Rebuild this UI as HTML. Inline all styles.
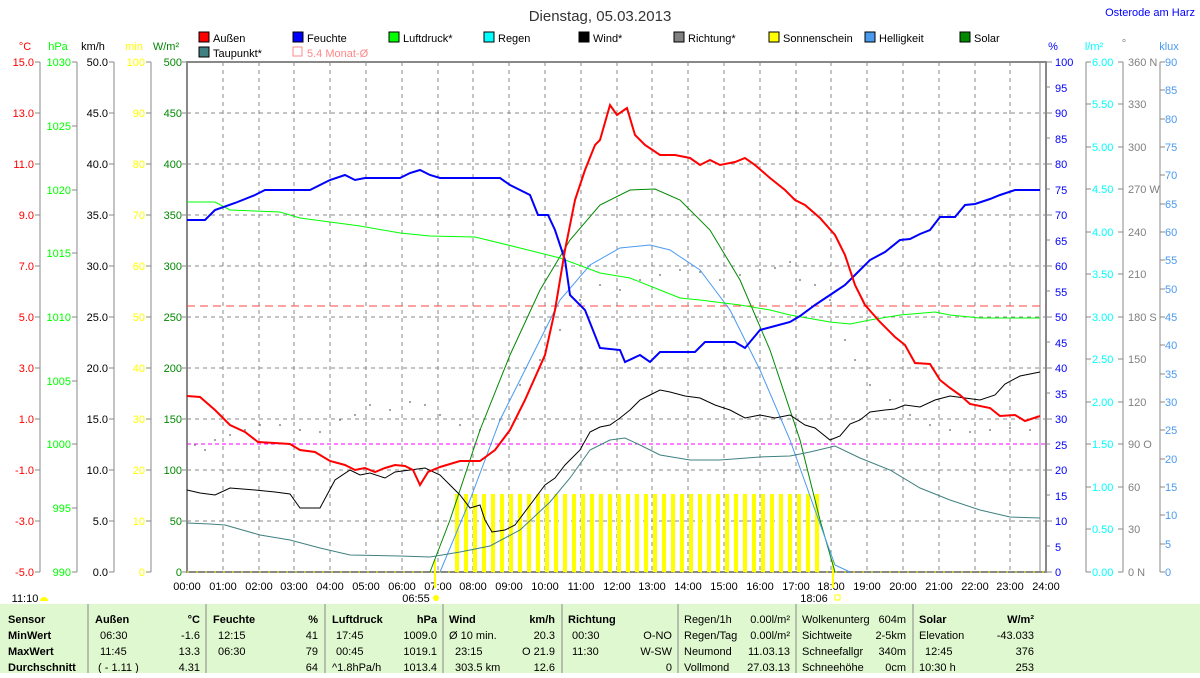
<!DOCTYPE html>
<html><head><meta charset="utf-8"><style>
body{margin:0;background:#fff;width:1200px;height:673px;overflow:hidden;font-family:"Liberation Sans",sans-serif}
svg text{font-family:"Liberation Sans",sans-serif;font-size:11px}
</style></head><body>
<svg width="1200" height="673" viewBox="0 0 1200 673" xmlns="http://www.w3.org/2000/svg">
<text x="600" y="21" text-anchor="middle" style="font-size:15px" fill="#333">Dienstag, 05.03.2013</text>
<text x="1195" y="16" text-anchor="end" style="font-size:11px" fill="#00f">Osterode am Harz</text>
<!-- legend -->
<g>
<rect x="199" y="32" width="10" height="10" fill="#f00" stroke="#000"/><text x="213" y="42">Außen</text>
<rect x="293" y="32" width="10" height="10" fill="#00f" stroke="#000"/><text x="307" y="42">Feuchte</text>
<rect x="389" y="32" width="10" height="10" fill="#0f0" stroke="#000"/><text x="403" y="42">Luftdruck*</text>
<rect x="484" y="32" width="10" height="10" fill="#0ff" stroke="#000"/><text x="498" y="42">Regen</text>
<rect x="579" y="32" width="10" height="10" fill="#000" stroke="#000"/><text x="593" y="42">Wind*</text>
<rect x="674" y="32" width="10" height="10" fill="#808080" stroke="#000"/><text x="688" y="42">Richtung*</text>
<rect x="769" y="32" width="10" height="10" fill="#ff0" stroke="#000"/><text x="783" y="42">Sonnenschein</text>
<rect x="865" y="32" width="10" height="10" fill="#4a9af0" stroke="#000"/><text x="879" y="42">Helligkeit</text>
<rect x="960" y="32" width="10" height="10" fill="#080" stroke="#000"/><text x="974" y="42">Solar</text>
<rect x="199" y="47" width="10" height="10" fill="#408080" stroke="#000"/><text x="213" y="57">Taupunkt*</text>
<rect x="293" y="47" width="9" height="9" fill="none" stroke="#f88"/><text x="307" y="57" fill="#f88">5.4 Monat-Ø</text>
</g>
<!-- axis headers -->
<text x="25" y="50" text-anchor="middle" fill="#f00">°C</text>
<text x="58" y="50" text-anchor="middle" fill="#0f0">hPa</text>
<text x="93" y="50" text-anchor="middle">km/h</text>
<text x="134" y="50" text-anchor="middle" fill="#ff0">min</text>
<text x="166" y="50" text-anchor="middle" fill="#080">W/m²</text>
<text x="1053" y="50" text-anchor="middle" fill="#00f">%</text>
<text x="1094" y="50" text-anchor="middle" fill="#0ff">l/m²</text>
<text x="1124" y="47" text-anchor="middle" fill="#808080">°</text>
<text x="1169" y="50" text-anchor="middle" fill="#4a9af0">klux</text>
<!-- grid -->
<g stroke="#888" stroke-dasharray="4,4" stroke-width="1">
<path d="M223,62V572M259,62V572M294,62V572M330,62V572M366,62V572M402,62V572M438,62V572M473,62V572M509,62V572M545,62V572M581,62V572M617,62V572M652,62V572M688,62V572M724,62V572M760,62V572M796,62V572M831,62V572M867,62V572M903,62V572M939,62V572M975,62V572M1010,62V572"/>
<path d="M187,113H1046M187,164H1046M187,215H1046M187,266H1046M187,317H1046M187,368H1046M187,419H1046M187,470H1046M187,521H1046"/>
</g>
<path d="M1040,62V572" stroke="#888"/>
<rect x="187" y="62" width="859" height="510" fill="none" stroke="#888" stroke-width="2"/>
<!-- left axes -->
<g stroke="#888"><path d="M40,62V572M77,62V572M114,62V572M151,62V572"/></g>
<g text-anchor="end">
<g fill="#f00">
<text x="34" y="66">15.0</text><text x="34" y="117">13.0</text><text x="34" y="168">11.0</text><text x="34" y="219">9.0</text><text x="34" y="270">7.0</text><text x="34" y="321">5.0</text><text x="34" y="372">3.0</text><text x="34" y="423">1.0</text><text x="34" y="474">-1.0</text><text x="34" y="525">-3.0</text><text x="34" y="576">-5.0</text></g>
<g fill="#0f0">
<text x="71" y="66">1030</text><text x="71" y="130">1025</text><text x="71" y="194">1020</text><text x="71" y="257">1015</text><text x="71" y="321">1010</text><text x="71" y="385">1005</text><text x="71" y="448">1000</text><text x="71" y="512">995</text><text x="71" y="576">990</text></g>
<g fill="#000">
<text x="108" y="66">50.0</text><text x="108" y="117">45.0</text><text x="108" y="168">40.0</text><text x="108" y="219">35.0</text><text x="108" y="270">30.0</text><text x="108" y="321">25.0</text><text x="108" y="372">20.0</text><text x="108" y="423">15.0</text><text x="108" y="474">10.0</text><text x="108" y="525">5.0</text><text x="108" y="576">0.0</text></g>
<g fill="#ff0">
<text x="145" y="66">100</text><text x="145" y="117">90</text><text x="145" y="168">80</text><text x="145" y="219">70</text><text x="145" y="270">60</text><text x="145" y="321">50</text><text x="145" y="372">40</text><text x="145" y="423">30</text><text x="145" y="474">20</text><text x="145" y="525">10</text><text x="145" y="576">0</text></g>
<g fill="#080">
<text x="182" y="66">500</text><text x="182" y="117">450</text><text x="182" y="168">400</text><text x="182" y="219">350</text><text x="182" y="270">300</text><text x="182" y="321">250</text><text x="182" y="372">200</text><text x="182" y="423">150</text><text x="182" y="474">100</text><text x="182" y="525">50</text><text x="182" y="576">0</text></g>
</g>
<g stroke="#888"><path d="M35,62h5M35,113h5M35,164h5M35,215h5M35,266h5M35,317h5M35,368h5M35,419h5M35,470h5M35,521h5M35,572h5
M72,62h5M72,126h5M72,190h5M72,253h5M72,317h5M72,381h5M72,444h5M72,508h5M72,572h5
M109,62h5M109,113h5M109,164h5M109,215h5M109,266h5M109,317h5M109,368h5M109,419h5M109,470h5M109,521h5M109,572h5
M146,62h5M146,113h5M146,164h5M146,215h5M146,266h5M146,317h5M146,368h5M146,419h5M146,470h5M146,521h5M146,572h5
M182,62h5M182,113h5M182,164h5M182,215h5M182,266h5M182,317h5M182,368h5M182,419h5M182,470h5M182,521h5M182,572h5"/></g>
<!-- right axes -->
<g stroke="#888"><path d="M1086,62V572M1123,62V572M1160,62V572"/></g>
<g fill="#00f">
<text x="1055" y="66">100</text><text x="1055" y="92">95</text><text x="1055" y="117">90</text><text x="1055" y="143">85</text><text x="1055" y="168">80</text><text x="1055" y="194">75</text><text x="1055" y="219">70</text><text x="1055" y="245">65</text><text x="1055" y="270">60</text><text x="1055" y="296">55</text><text x="1055" y="321">50</text><text x="1055" y="347">45</text><text x="1055" y="372">40</text><text x="1055" y="398">35</text><text x="1055" y="423">30</text><text x="1055" y="449">25</text><text x="1055" y="474">20</text><text x="1055" y="500">15</text><text x="1055" y="525">10</text><text x="1055" y="551">5</text><text x="1055" y="576">0</text></g>
<g fill="#0ff">
<text x="1092" y="66">6.00</text><text x="1092" y="108">5.50</text><text x="1092" y="151">5.00</text><text x="1092" y="193">4.50</text><text x="1092" y="236">4.00</text><text x="1092" y="278">3.50</text><text x="1092" y="321">3.00</text><text x="1092" y="363">2.50</text><text x="1092" y="406">2.00</text><text x="1092" y="448">1.50</text><text x="1092" y="491">1.00</text><text x="1092" y="533">0.50</text><text x="1092" y="576">0.00</text></g>
<g fill="#808080">
<text x="1128" y="66">360 N</text><text x="1128" y="108">330</text><text x="1128" y="151">300</text><text x="1128" y="193">270 W</text><text x="1128" y="236">240</text><text x="1128" y="278">210</text><text x="1128" y="321">180 S</text><text x="1128" y="363">150</text><text x="1128" y="406">120</text><text x="1128" y="448">90  O</text><text x="1128" y="491">60</text><text x="1128" y="533">30</text><text x="1128" y="576">0   N</text></g>
<g fill="#4a9af0">
<text x="1165" y="66">90</text><text x="1165" y="94">85</text><text x="1165" y="123">80</text><text x="1165" y="151">75</text><text x="1165" y="179">70</text><text x="1165" y="208">65</text><text x="1165" y="236">60</text><text x="1165" y="264">55</text><text x="1165" y="293">50</text><text x="1165" y="321">45</text><text x="1165" y="349">40</text><text x="1165" y="378">35</text><text x="1165" y="406">30</text><text x="1165" y="434">25</text><text x="1165" y="463">20</text><text x="1165" y="491">15</text><text x="1165" y="519">10</text><text x="1165" y="548">5</text><text x="1165" y="576">0</text></g>
<g stroke="#888"><path d="M1047,62h5M1047,113h5M1047,164h5M1047,215h5M1047,266h5M1047,317h5M1047,368h5M1047,419h5M1047,470h5M1047,521h5M1047,572h5M1047,87h3M1047,138h3M1047,189h3M1047,240h3M1047,291h3M1047,342h3M1047,393h3M1047,444h3M1047,495h3M1047,546h3
M1086,62h5M1086,104h5M1086,147h5M1086,189h5M1086,232h5M1086,274h5M1086,317h5M1086,359h5M1086,402h5M1086,444h5M1086,487h5M1086,529h5M1086,572h5
M1118,62h5M1118,104h5M1118,147h5M1118,189h5M1118,232h5M1118,274h5M1118,317h5M1118,359h5M1118,402h5M1118,444h5M1118,487h5M1118,529h5M1118,572h5
M1160,62h5M1160,90h5M1160,119h5M1160,147h5M1160,175h5M1160,204h5M1160,232h5M1160,260h5M1160,289h5M1160,317h5M1160,345h5M1160,374h5M1160,402h5M1160,430h5M1160,459h5M1160,487h5M1160,515h5M1160,544h5M1160,572h5"/></g>
<!-- x labels -->
<g text-anchor="middle">
<text x="187" y="590">00:00</text><text x="223" y="590">01:00</text><text x="259" y="590">02:00</text><text x="294" y="590">03:00</text><text x="330" y="590">04:00</text><text x="366" y="590">05:00</text><text x="402" y="590">06:00</text><text x="438" y="590">07:00</text><text x="473" y="590">08:00</text><text x="509" y="590">09:00</text><text x="545" y="590">10:00</text><text x="581" y="590">11:00</text><text x="617" y="590">12:00</text><text x="652" y="590">13:00</text><text x="688" y="590">14:00</text><text x="724" y="590">15:00</text><text x="760" y="590">16:00</text><text x="796" y="590">17:00</text><text x="831" y="590">18:00</text><text x="867" y="590">19:00</text><text x="903" y="590">20:00</text><text x="939" y="590">21:00</text><text x="975" y="590">22:00</text><text x="1010" y="590">23:00</text><text x="1046" y="590">24:00</text>
<text x="416" y="602">06:55</text><text x="814" y="602">18:06</text><text x="25" y="602">11:10</text></g>
<circle cx="436" cy="598" r="3" fill="#ff0"/><rect x="835" y="595" width="5" height="5" fill="none" stroke="#ff0"/><path d="M40,601a4,4 0 0 1 8,0z" fill="#ff0"/>
<path d="M435,560V588M833,560V588" stroke="#ff0" stroke-width="2"/>
<!-- yellow bars -->
<path d="M457,494V572M466,494V572M475,494V572M484,494V572M493,494V572M502,494V572M511,494V572M520,494V572M529,494V572M538,494V572M547,494V572M556,494V572M565,494V572M574,494V572M583,494V572M592,494V572M601,494V572M610,494V572M619,494V572M628,494V572M637,494V572M646,494V572M655,494V572M664,494V572M673,494V572M682,494V572M691,494V572M700,494V572M709,494V572M718,494V572M727,494V572M736,494V572M745,494V572M754,494V572M763,494V572M772,494V572M781,494V572M790,494V572M799,494V572M808,494V572M817,494V572" stroke="#ff0" stroke-width="4"/>
<path d="M187,572H1046" stroke="#ff0" stroke-dasharray="2,7"/>
<!-- reference lines -->
<path d="M187,306H1046" stroke="#f44" stroke-dasharray="8,5"/>
<path d="M187,444H1046" stroke="#f0f" stroke-dasharray="4,3"/>
<!-- Richtung dots -->
<g fill="#888">
<circle cx="195" cy="445" r="1"/><circle cx="205" cy="450" r="1"/><circle cx="215" cy="440" r="1"/><circle cx="230" cy="435" r="1"/><circle cx="245" cy="430" r="1"/><circle cx="260" cy="425" r="1"/><circle cx="280" cy="425" r="1"/><circle cx="300" cy="430" r="1"/><circle cx="320" cy="432" r="1"/><circle cx="340" cy="420" r="1"/><circle cx="355" cy="415" r="1"/><circle cx="370" cy="405" r="1"/><circle cx="390" cy="410" r="1"/><circle cx="410" cy="402" r="1"/><circle cx="425" cy="405" r="1"/><circle cx="440" cy="415" r="1"/><circle cx="460" cy="425" r="1"/><circle cx="480" cy="430" r="1"/><circle cx="500" cy="420" r="1"/><circle cx="520" cy="385" r="1"/><circle cx="540" cy="360" r="1"/><circle cx="560" cy="330" r="1"/><circle cx="580" cy="300" r="1"/><circle cx="600" cy="285" r="1"/><circle cx="620" cy="290" r="1"/><circle cx="640" cy="280" r="1"/><circle cx="660" cy="275" r="1"/><circle cx="680" cy="270" r="1"/><circle cx="700" cy="272" r="1"/><circle cx="720" cy="280" r="1"/><circle cx="740" cy="275" r="1"/><circle cx="760" cy="270" r="1"/><circle cx="775" cy="268" r="1"/><circle cx="790" cy="262" r="1"/><circle cx="800" cy="280" r="1"/><circle cx="815" cy="285" r="1"/><circle cx="830" cy="300" r="1"/><circle cx="845" cy="340" r="1"/><circle cx="855" cy="360" r="1"/><circle cx="870" cy="385" r="1"/><circle cx="890" cy="400" r="1"/><circle cx="910" cy="415" r="1"/><circle cx="930" cy="425" r="1"/><circle cx="950" cy="430" r="1"/><circle cx="970" cy="432" r="1"/><circle cx="990" cy="430" r="1"/><circle cx="1010" cy="428" r="1"/><circle cx="1030" cy="430" r="1"/></g>
<!-- series -->
<g fill="none">
<polyline stroke="#080" points="430,572 450,520 480,430 510,355 540,290 570,240 600,205 630,190 655,189 680,200 710,230 740,280 770,350 800,440 820,520 835,572"/>
<polyline stroke="#4a9af0" points="440,572 470,500 500,420 530,360 560,300 590,265 620,248 650,245 670,250 700,270 730,310 760,370 790,440 815,510 835,565 850,572"/>
<polyline stroke="#408080" points="187,523 210,524 225,525 260,535 290,540 320,548 350,555 400,556 430,557 460,552 490,546 520,530 550,502 570,478 590,450 610,440 625,438 640,445 660,455 690,460 720,460 760,457 790,456 810,452 835,446 860,458 890,470 920,488 950,500 980,510 1010,517 1040,518"/>
<polyline stroke="#0f0" points="187,202 215,202 230,210 280,212 300,218 330,222 360,226 400,233 430,236 475,237 520,248 560,258 600,273 630,278 660,290 680,298 700,300 740,305 770,310 790,315 830,322 850,324 870,320 900,315 935,312 950,315 980,318 1040,318"/>
<polyline stroke="#000" points="187,490 200,493 215,495 230,488 255,490 275,492 290,494 300,508 320,508 335,480 350,470 360,475 370,473 385,478 395,472 410,470 425,468 440,475 450,485 460,495 470,508 480,505 485,520 492,532 505,530 515,525 530,505 545,485 555,478 565,465 580,450 590,432 600,427 610,425 620,418 630,410 640,400 650,395 660,390 670,392 685,396 700,398 715,405 730,410 745,418 760,415 775,418 790,415 805,425 815,428 830,440 840,436 850,424 860,420 870,412 885,410 895,409 905,405 920,407 935,400 950,396 965,398 980,400 995,395 1005,384 1020,376 1040,372"/>
<polyline stroke="#00f" stroke-width="2" points="187,220 205,220 215,210 235,203 255,195 265,190 310,190 320,185 330,180 345,175 355,180 365,178 400,178 410,173 420,170 430,175 440,178 500,178 510,185 530,195 538,215 548,215 555,230 565,260 570,295 585,310 600,348 620,350 625,362 640,355 650,362 660,352 695,352 705,342 735,342 745,348 760,330 775,326 790,322 800,316 815,305 830,295 845,285 855,275 870,260 885,252 900,240 910,239 920,234 930,230 940,217 955,217 965,205 975,204 990,199 1000,195 1015,190 1040,190"/>
<polyline stroke="#f00" stroke-width="2" points="187,396 200,397 215,410 230,425 245,432 258,442 275,443 290,444 300,450 315,452 330,461 345,465 355,470 365,468 375,472 385,468 395,465 405,466 413,470 420,485 428,472 440,467 460,461 480,461 495,450 510,430 525,400 545,355 555,310 565,250 575,200 585,170 595,145 600,140 610,105 617,115 627,108 635,135 645,145 660,155 675,155 690,158 700,165 710,160 720,165 735,162 745,158 755,165 770,178 785,190 795,200 805,205 820,218 835,235 845,255 855,285 865,305 880,322 895,337 905,345 915,363 930,364 940,380 950,388 960,395 970,404 990,408 1000,416 1015,415 1025,421 1040,416"/>
</g>
<!-- table -->
<rect x="0" y="604" width="1200" height="69" fill="#e0f8d0"/>
<g stroke="#888"><path d="M88,604V673M206,604V673M325,604V673M443,604V673M562,604V673M678,604V673M796,604V673M913,604V673"/></g>
<g>
<g font-weight="bold">
<text x="8" y="623">Sensor</text><text x="8" y="639">MinWert</text><text x="8" y="655">MaxWert</text><text x="8" y="671">Durchschnitt</text>
<text x="95" y="623">Außen</text><text x="200" y="623" text-anchor="end">°C</text>
<text x="213" y="623">Feuchte</text><text x="318" y="623" text-anchor="end">%</text>
<text x="332" y="623">Luftdruck</text><text x="437" y="623" text-anchor="end">hPa</text>
<text x="449" y="623">Wind</text><text x="555" y="623" text-anchor="end">km/h</text>
<text x="568" y="623">Richtung</text>
<text x="919" y="623">Solar</text><text x="1034" y="623" text-anchor="end">W/m²</text>
</g>
<text x="100" y="639">06:30</text><text x="200" y="639" text-anchor="end">-1.6</text>
<text x="100" y="655">11:45</text><text x="200" y="655" text-anchor="end">13.3</text>
<text x="98" y="671">( - 1.11 )</text><text x="200" y="671" text-anchor="end">4.31</text>
<text x="218" y="639">12:15</text><text x="318" y="639" text-anchor="end">41</text>
<text x="218" y="655">06:30</text><text x="318" y="655" text-anchor="end">79</text>
<text x="318" y="671" text-anchor="end">64</text>
<text x="336" y="639">17:45</text><text x="437" y="639" text-anchor="end">1009.0</text>
<text x="336" y="655">00:45</text><text x="437" y="655" text-anchor="end">1019.1</text>
<text x="332" y="671">^1.8hPa/h</text><text x="437" y="671" text-anchor="end">1013.4</text>
<text x="449" y="639">Ø 10 min.</text><text x="555" y="639" text-anchor="end">20.3</text>
<text x="455" y="655">23:15</text><text x="555" y="655" text-anchor="end">O 21.9</text>
<text x="455" y="671">303.5 km</text><text x="555" y="671" text-anchor="end">12.6</text>
<text x="572" y="639">00:30</text><text x="672" y="639" text-anchor="end">O-NO</text>
<text x="572" y="655">11:30</text><text x="672" y="655" text-anchor="end">W-SW</text>
<text x="672" y="671" text-anchor="end">0</text>
<text x="684" y="623">Regen/1h</text><text x="790" y="623" text-anchor="end">0.00l/m²</text>
<text x="684" y="639">Regen/Tag</text><text x="790" y="639" text-anchor="end">0.00l/m²</text>
<text x="684" y="655">Neumond</text><text x="790" y="655" text-anchor="end">11.03.13</text>
<text x="684" y="671">Vollmond</text><text x="790" y="671" text-anchor="end">27.03.13</text>
<text x="802" y="623">Wolkenunterg</text><text x="906" y="623" text-anchor="end">604m</text>
<text x="802" y="639">Sichtweite</text><text x="906" y="639" text-anchor="end">2-5km</text>
<text x="802" y="655">Schneefallgr</text><text x="906" y="655" text-anchor="end">340m</text>
<text x="802" y="671">Schneehöhe</text><text x="906" y="671" text-anchor="end">0cm</text>
<text x="919" y="639">Elevation</text><text x="1034" y="639" text-anchor="end">-43.033</text>
<text x="925" y="655">12:45</text><text x="1034" y="655" text-anchor="end">376</text>
<text x="919" y="671">10:30 h</text><text x="1034" y="671" text-anchor="end">253</text>
</g>
</svg>
</body></html>
